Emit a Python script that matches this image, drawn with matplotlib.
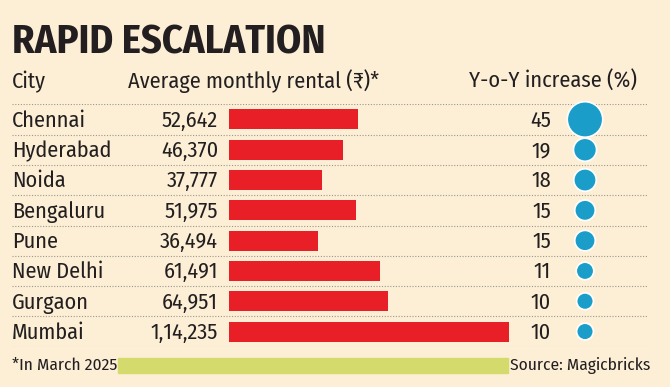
import matplotlib
matplotlib.use('Agg')
import matplotlib.pyplot as plt
from matplotlib.patches import Rectangle

# data
cities = ['Chennai', 'Hyderabad', 'Noida', 'Bengaluru', 'Pune', 'New Delhi', 'Gurgaon', 'Mumbai']
rents = [52642, 46370, 37777, 51975, 36494, 61491, 64951, 114235]
rent_labels = ['52,642', '46,370', '37,777', '51,975', '36,494', '61,491', '64,951', '1,14,235']
yoy = [45, 19, 18, 15, 15, 11, 10, 10]

title = 'RAPID ESCALATION'
headers = ['City', 'Average monthly rental (\u20b9)*', 'Y-o-Y increase (%)']
note = '*In March 2025'
source = 'Source: Magicbricks'

W, H = 670, 387
BG = '#fcefd6'
RED = '#e81f27'
BLUE = '#1a9dc8'
GREEN = '#d4db6c'
INK = '#231f20'
FS = 16

plt.rcParams['font.family'] = ['Fira Sans Condensed', 'DejaVu Sans']


def px(x0, y0, x1, y1):
    """pixel box (top-left origin) -> figure rect"""
    return [x0 / W, 1 - y1 / H, (x1 - x0) / W, (y1 - y0) / H]


fig = plt.figure(figsize=(W / 100, H / 100), dpi=100, facecolor=BG)

n = len(cities)
row_top, row_h = 104.3, 30.3
tbl_bottom = row_top + n * row_h

# table axes: x in pixels, y in rows
ax = fig.add_axes(px(0, row_top, W, tbl_bottom))
ax.set_xlim(0, W)
ax.set_ylim(n - 0.5, -0.5)
ax.axis('off')

# bar axes
axb = fig.add_axes(px(229, row_top, 509, tbl_bottom))
axb.barh(range(n), rents, height=0.66, color=RED)
axb.set_xlim(0, max(rents))
axb.set_ylim(n - 0.5, -0.5)
axb.axis('off')

ax.hlines([i - 0.5 for i in range(n + 1)], 12, 648, colors='#9c968c',
          linestyles=(0, (1, 1.5)), linewidth=0.8)

ax.scatter([585] * n, range(n), s=[14.5 * v for v in yoy], color=BLUE,
           edgecolors='white', linewidths=1.2, zorder=3, clip_on=False)

for i in range(n):
    ax.text(12, i + 0.24, cities[i], ha='left', va='baseline', fontsize=FS, color=INK)
    ax.text(218, i + 0.24, rent_labels[i], ha='right', va='baseline', fontsize=FS, color=INK)
    ax.text(551, i + 0.24, str(yoy[i]), ha='right', va='baseline', fontsize=FS, color=INK)

# title and header
fig.text(12 / W, 1 - 53 / H, title, ha='left', va='baseline', fontsize=29,
         fontweight='bold', color=INK)
fig.text(12 / W, 1 - 88 / H, headers[0], ha='left', va='baseline', fontsize=FS, color=INK)
fig.text(128 / W, 1 - 88 / H, headers[1], ha='left', va='baseline', fontsize=FS, color=INK)
fig.text(637 / W, 1 - 88 / H, headers[2], ha='right', va='baseline', fontsize=FS, color=INK)

# footer
fig.patches.append(Rectangle((118 / W, 1 - 372.5 / H), (508 - 118) / W, 15 / H,
                             transform=fig.transFigure, color=GREEN, zorder=0))
fig.text(12 / W, 1 - 370 / H, note, ha='left', va='baseline', fontsize=12.5, color=INK)
fig.text(650 / W, 1 - 370 / H, source, ha='right', va='baseline', fontsize=12.5, color=INK)

fig.savefig('out.png', dpi=100, facecolor=BG)
